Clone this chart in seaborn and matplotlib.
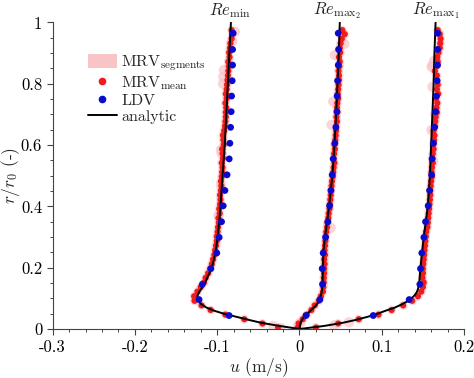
import numpy as np
import pandas as pd
import matplotlib
matplotlib.use("Agg")
import matplotlib.pyplot as plt
import seaborn as sns
from matplotlib.lines import Line2D
from matplotlib.patches import Patch
from matplotlib.ticker import FixedLocator, FixedFormatter, MultipleLocator

# analytic profiles (r/r0 grid shared by the three cases)
r_an = [0, 0.01, 0.02, 0.03, 0.04, 0.05, 0.06, 0.07, 0.08, 0.09, 0.10, 0.11, 0.12,
        0.13, 0.15, 0.20, 0.25, 0.30, 0.35, 0.40, 0.50, 0.60, 0.70, 0.80, 0.90, 1.00]
u_an_min = [0, -0.024, -0.046, -0.062, -0.077, -0.092, -0.104, -0.113, -0.119, -0.1225,
            -0.124, -0.1238, -0.122, -0.1195, -0.115, -0.1065, -0.102, -0.0995, -0.0975,
            -0.096, -0.0935, -0.0908, -0.0889, -0.087, -0.0852, -0.0833]
u_an_max2 = [0, 0.0005, 0.0015, 0.003, 0.006, 0.0095, 0.0135, 0.0175, 0.021, 0.0235,
             0.025, 0.026, 0.027, 0.0275, 0.028, 0.0285, 0.029, 0.031, 0.0335, 0.036,
             0.040, 0.0425, 0.0445, 0.0462, 0.0478, 0.049]
u_an_max1 = [0, 0.030, 0.052, 0.069, 0.083, 0.095, 0.105, 0.116, 0.124, 0.131, 0.136,
             0.140, 0.1425, 0.144, 0.1455, 0.147, 0.149, 0.151, 0.1535, 0.156, 0.1585,
             0.160, 0.1615, 0.163, 0.164, 0.1654]

# MRV mean values
r_mrv = [0.005, 0.018, 0.032, 0.047, 0.062, 0.077, 0.092, 0.107, 0.122, 0.137, 0.152,
         0.167, 0.182, 0.197, 0.212, 0.227, 0.242, 0.257, 0.272, 0.287, 0.302, 0.317,
         0.332, 0.347, 0.362, 0.377, 0.392, 0.407, 0.422, 0.437, 0.452, 0.467, 0.482,
         0.497, 0.512, 0.527, 0.542, 0.557, 0.572, 0.587, 0.602, 0.617, 0.632, 0.647,
         0.662, 0.677, 0.692, 0.707, 0.722, 0.737, 0.752, 0.767, 0.782, 0.797, 0.812,
         0.827, 0.842, 0.857, 0.872, 0.887, 0.902, 0.917, 0.932, 0.947, 0.962, 0.975]
u_mrv_min = [-0.026, -0.045, -0.067, -0.090, -0.108, -0.119, -0.1275, -0.128, -0.124, -0.120, -0.116,
             -0.114, -0.111, -0.1085, -0.1065, -0.105, -0.1035, -0.1025, -0.1015, -0.1005, -0.1005, -0.0995,
             -0.099, -0.098, -0.0985, -0.097, -0.0975, -0.0965, -0.096, -0.0965, -0.0955, -0.095, -0.0955,
             -0.0945, -0.094, -0.0935, -0.0945, -0.093, -0.0935, -0.094, -0.092, -0.0925, -0.093, -0.0915,
             -0.0905, -0.090, -0.0895, -0.0895, -0.089, -0.090, -0.0885, -0.0895, -0.0885, -0.088, -0.0875,
             -0.087, -0.0865, -0.086, -0.0865, -0.085, -0.0855, -0.0845, -0.084, -0.0825, -0.0815, -0.0825]
u_mrv_max2 = [-0.002, -0.001, 0.004, 0.009, 0.0145, 0.0185, 0.0235, 0.026, 0.0285, 0.029, 0.0295,
              0.0295, 0.030, 0.030, 0.0305, 0.030, 0.031, 0.0305, 0.031, 0.0315, 0.032, 0.0325,
              0.0335, 0.034, 0.035, 0.0355, 0.0365, 0.037, 0.0375, 0.038, 0.0385, 0.039, 0.0395,
              0.0405, 0.041, 0.0415, 0.0425, 0.0415, 0.042, 0.043, 0.0425, 0.0435, 0.044, 0.0445,
              0.0445, 0.0455, 0.045, 0.046, 0.0455, 0.046, 0.047, 0.0465, 0.047, 0.0475, 0.048,
              0.048, 0.0475, 0.0485, 0.049, 0.048, 0.0495, 0.049, 0.050, 0.0515, 0.055, 0.052]
u_mrv_max1 = [0.020, 0.047, 0.072, 0.096, 0.112, 0.126, 0.137, 0.144, 0.148, 0.150, 0.151,
              0.1495, 0.150, 0.150, 0.1505, 0.151, 0.1515, 0.152, 0.1525, 0.153, 0.1535, 0.154,
              0.1555, 0.156, 0.1565, 0.157, 0.1575, 0.158, 0.1585, 0.159, 0.159, 0.1595, 0.160,
              0.161, 0.1605, 0.161, 0.162, 0.1615, 0.162, 0.163, 0.1625, 0.1635, 0.164, 0.163,
              0.1645, 0.165, 0.1655, 0.167, 0.1665, 0.1675, 0.166, 0.1685, 0.167, 0.168, 0.1665,
              0.167, 0.1645, 0.1665, 0.168, 0.1675, 0.169, 0.1705, 0.171, 0.1715, 0.1705, 0.168]

# MRV segments that stick out of the mean
seg_r_min = [0.97, 0.94, 0.845, 0.80, 0.823, 0.573, 0.585, 0.47, 0.37, 0.003, 0.01]
seg_u_min = [-0.0785, -0.0815, -0.0918, -0.093, -0.0927, -0.0946, -0.0955, -0.0955, -0.0985, -0.0225, -0.032]
seg_r_max2 = [0.742, 0.894, 0.96, 0.666, 0.93, 0.008, 0.02, 0.33]
seg_u_max2 = [0.041, 0.043, 0.052, 0.039, 0.0545, -0.002, 0.001, 0.038]
seg_r_max1 = [0.855, 0.861, 0.875, 0.79, 0.649, 0.548, 0.70, 0.012, 0.022]
seg_u_max1 = [0.1605, 0.1617, 0.1637, 0.1617, 0.1605, 0.1625, 0.165, 0.042, 0.06]

# LDV
r_ldv = [0.044, 0.096, 0.146, 0.197, 0.248, 0.299, 0.350, 0.402, 0.452, 0.503,
         0.555, 0.606, 0.658, 0.709, 0.760, 0.810, 0.861, 0.912, 0.965]
u_ldv_min = [-0.0855, -0.122, -0.118, -0.1077, -0.1005, -0.0976, -0.0947, -0.0927, -0.0906, -0.0880,
             -0.0854, -0.0846, -0.0837, -0.083, -0.0825, -0.0818, -0.0813, -0.0813, -0.0806]
u_ldv_max2 = [0.0078, 0.0248, 0.028, 0.0276, 0.0288, 0.0317, 0.0345, 0.0366, 0.0382, 0.0398,
              0.041, 0.043, 0.0442, 0.0455, 0.0458, 0.0463, 0.0471, 0.0475, 0.0471]
u_ldv_max1 = [0.0896, 0.1333, 0.1463, 0.1471, 0.1487, 0.1512, 0.1532, 0.1564, 0.1581, 0.1605,
              0.1612, 0.1629, 0.1642, 0.1654, 0.1666, 0.1673, 0.1678, 0.1678, 0.1678]

titles = [r"$Re_{\mathrm{min}}$", r"$Re_{\mathrm{max}_2}$", r"$Re_{\mathrm{max}_1}$"]
title_x = [-0.085, 0.046, 0.166]

sns.set_style("ticks")
plt.rcParams["font.family"] = ["cmr10", "DejaVu Serif"]
plt.rcParams["mathtext.fontset"] = "cm"
plt.rcParams["axes.unicode_minus"] = False

pink = "#f8c4c6"
red = "#ee1c1c"
blue = "#0a0acc"

fig = plt.figure(figsize=(4.74, 3.78), dpi=100)
ax = fig.add_axes([0.111, 0.1296, 0.868, 0.8109])

profiles = [
    (u_an_min, u_mrv_min, seg_r_min, seg_u_min, u_ldv_min),
    (u_an_max2, u_mrv_max2, seg_r_max2, seg_u_max2, u_ldv_max2),
    (u_an_max1, u_mrv_max1, seg_r_max1, seg_u_max1, u_ldv_max1),
]

for u_an, u_mrv, seg_r, seg_u, u_ldv in profiles:
    # segments: pink halo under the mean points plus the outlying ones
    sns.scatterplot(x=u_mrv, y=r_mrv, ax=ax, color=pink, s=42, alpha=0.6,
                    edgecolor="none", zorder=1)
    sns.scatterplot(x=seg_u, y=seg_r, ax=ax, color=pink, s=55, alpha=0.7,
                    edgecolor="none", zorder=1)
    sns.scatterplot(x=u_mrv, y=r_mrv, ax=ax, color=red, s=20, edgecolor="none", zorder=2)
    sns.lineplot(x=u_an, y=r_an, ax=ax, sort=False, estimator=None, color="black",
                 linewidth=1.4, zorder=3)
    sns.scatterplot(x=u_ldv, y=r_ldv, ax=ax, color=blue, s=24, edgecolor="none", zorder=4)

for t, tx in zip(titles, title_x):
    ax.text(tx, 1.04, t, ha="center", va="center", fontsize=12, clip_on=False)

ax.set_xlim(-0.3, 0.2)
ax.set_ylim(0, 1)
xt = [-0.3, -0.2, -0.1, 0, 0.1, 0.2]
yt = [0, 0.2, 0.4, 0.6, 0.8, 1.0]
ax.xaxis.set_major_locator(FixedLocator(xt))
ax.xaxis.set_major_formatter(FixedFormatter(["-0.3", "-0.2", "-0.1", "0", "0.1", "0.2"]))
ax.yaxis.set_major_locator(FixedLocator(yt))
ax.yaxis.set_major_formatter(FixedFormatter(["0", "0.2", "0.4", "0.6", "0.8", "1"]))
ax.xaxis.set_minor_locator(MultipleLocator(0.02))
ax.yaxis.set_minor_locator(MultipleLocator(0.05))
ax.tick_params(which="major", direction="out", length=4, width=0.8, colors="#444444",
               labelcolor="black", labelsize=12)
ax.tick_params(which="minor", direction="out", length=2.5, width=0.7, colors="#444444")
for side in ["top", "right"]:
    ax.spines[side].set_visible(False)
for side in ["left", "bottom"]:
    ax.spines[side].set_color("#444444")
    ax.spines[side].set_linewidth(0.8)

ax.set_xlabel(r"$u$ (m/s)", fontsize=12.5)
ax.set_ylabel(r"$r/r_0$ (-)", fontsize=12.5)
ax.xaxis.set_label_coords(0.5, -0.09)
ax.yaxis.set_label_coords(-0.075, 0.5)

handles = [
    Patch(facecolor=pink, edgecolor="none"),
    Line2D([], [], marker="o", linestyle="none", color=red, markersize=4.5),
    Line2D([], [], marker="o", linestyle="none", color=blue, markersize=4.5),
    Line2D([], [], color="black", linewidth=1.4),
]
labels = [r"MRV$_{\mathrm{segments}}$", r"MRV$_{\mathrm{mean}}$", "LDV", "analytic"]
ax.legend(handles, labels, loc="upper left", bbox_to_anchor=(0.07, 0.92), frameon=False,
          fontsize=11.5, handlelength=1.8, handleheight=1.0, handletextpad=0.3,
          labelspacing=0.05, borderaxespad=0)

fig.savefig("out.png", dpi=100)
